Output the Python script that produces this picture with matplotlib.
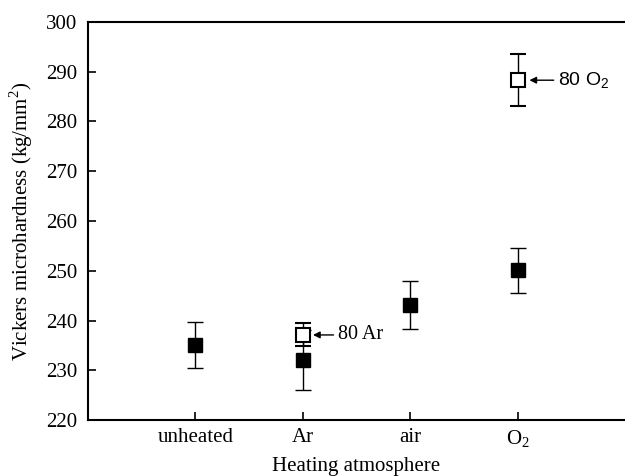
import matplotlib
matplotlib.use("Agg")
import matplotlib.pyplot as plt

# data
categories = ["unheated", "Ar", "air", "O$_2$"]
x_pos = [1, 2, 3, 4]
hard = [235.1, 232.1, 243.1, 250.1]
hard_err = [4.7, 6.0, 4.8, 4.5]

x_80 = [2, 4]
hard_80 = [237.1, 288.3]
err_80 = [2.3, 5.2]
labels_80 = ["80 Ar", "80 $\\mathsf{O_2}$"]

plt.rcParams['font.family'] = ['Liberation Serif', 'DejaVu Serif']
plt.rcParams['mathtext.fontset'] = 'custom'
plt.rcParams['mathtext.rm'] = 'Liberation Serif'
plt.rcParams['mathtext.sf'] = 'Liberation Sans'

fig = plt.figure(figsize=(6.25, 4.76), dpi=100)
ax = fig.add_axes([0.1408, 0.1176, 0.8592, 0.8362])

ax.errorbar(x_pos, hard, yerr=hard_err, fmt='s', color='black', ms=10,
            capsize=6, elinewidth=1.0, capthick=1.0, zorder=2)
ax.errorbar(x_80, hard_80, yerr=err_80, fmt='s', color='black', mfc='white',
            mec='black', mew=1.5, ms=10, capsize=6, elinewidth=1.0,
            capthick=1.0, zorder=3)

# arrow annotations
ax.annotate(labels_80[0], xy=(x_80[0] + 0.095, hard_80[0]), xytext=(x_80[0] + 0.325, hard_80[0]),
            fontsize=14.5, va='center', ha='left',
            arrowprops=dict(arrowstyle='-|>', color='black', lw=1.0,
                            mutation_scale=10, shrinkA=1, shrinkB=0))
ax.annotate(labels_80[1], xy=(x_80[1] + 0.11, hard_80[1]), xytext=(x_80[1] + 0.375, hard_80[1]),
            fontsize=14, va='center', ha='left', family=['Liberation Sans'],
            arrowprops=dict(arrowstyle='-|>', color='black', lw=1.0,
                            mutation_scale=10, shrinkA=1, shrinkB=0))

ax.set_xlim(0, 5)
ax.set_ylim(220, 300)
ax.set_xticks(x_pos)
ax.set_xticklabels(categories)
ax.set_yticks(range(220, 301, 10))
ax.tick_params(direction='in', length=6, width=1.2, labelsize=15)
ax.tick_params(axis='y', pad=8)
ax.tick_params(axis='x', pad=6)
for s in ['left', 'bottom', 'top']:
    ax.spines[s].set_linewidth(1.5)
ax.spines['right'].set_visible(False)

ax.set_xlabel("Heating atmosphere", fontsize=15, labelpad=5)
ax.set_ylabel("Vickers microhardness (kg/mm$^2$)", fontsize=15, labelpad=8)

fig.savefig("out.png", dpi=100)
